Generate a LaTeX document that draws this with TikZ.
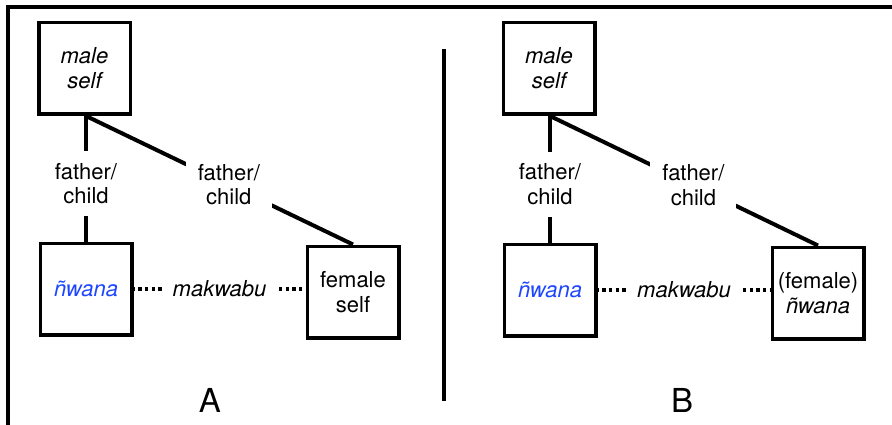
\documentclass[tikz,border=0pt]{standalone}
\usepackage{fontspec}
\setmainfont{TeX Gyre Heros}
\begin{document}
\begin{tikzpicture}[x=1pt,y=-1pt,
  kin/.style={draw,line width=3.5pt,minimum width=91.5pt,minimum height=91.5pt,
    inner sep=0pt,align=center,font=\fontsize{22}{25}\selectfont},
  tie/.style={line width=4pt},
  rel/.style={fill=white,inner sep=12pt,align=center,font=\fontsize{22}{24.5}\selectfont},
  sib/.style={line width=3.4pt,dash pattern=on 3.4pt off 3.3pt,dash phase=2pt},
  siblab/.style={fill=white,inner xsep=11pt,inner ysep=6pt,font=\fontsize{22}{25}\selectfont\itshape},
  panel/.style={font=\fontsize{33}{36}\selectfont},
  frame/.style={line width=4pt,line join=miter}]
\definecolor{termblue}{RGB}{30,70,255}
\useasboundingbox (0,0) rectangle (892,425);

% outer frame (left and top edges) and divider between the two panels
\coordinate (fbl) at (8,425);
\coordinate (ftl) at (8,7);
\coordinate (ftr) at (892,7);
\draw[frame] (fbl) -- (ftl) -- (ftr);
\coordinate (dt) at (444,49);
\coordinate (db) at (444,401);
\draw[tie] (dt) -- (db);

% panel A
\node[kin] (ams) at (84.5,68.5) {\itshape male\\\itshape self};
\node[kin] (anw) at (86,289) {\textcolor{termblue}{\itshape ñwana}};
\node[kin] (afs) at (353,292) {female\\self};
\coordinate (atop) at (anw.north |- ams.south);
\draw[tie] (atop) -- node[rel,pos=0.54] {father/\\child} (anw.north);
\draw[tie] (atop) -- node[rel,pos=0.535] {father/\\child} (afs.north);
\draw[sib] (anw.east) -- node[siblab] {makwabu} (anw.east -| afs.west);
\node[panel] (alab) at (210,400) {A};

% panel B
\node[kin] (bms) at (549,68.5) {\itshape male\\\itshape self};
\node[kin] (bnw) at (550,290) {\textcolor{termblue}{\itshape ñwana}};
\node[kin] (bfs) at (818,293) {(female)\\\itshape ñwana};
\coordinate (btop) at (bnw.north |- bms.south);
\draw[tie] (btop) -- node[rel,pos=0.54] {father/\\child} (bnw.north);
\draw[tie] (btop) -- node[rel,pos=0.535] {father/\\child} (bfs.north);
\draw[sib] (bnw.east) -- node[siblab] {makwabu} (bnw.east -| bfs.west);
\node[panel] (blab) at (682,400) {B};
\end{tikzpicture}
\end{document}
